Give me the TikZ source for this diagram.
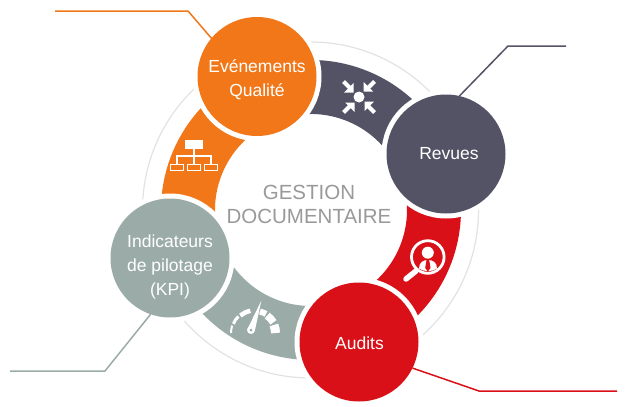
\documentclass[tikz,border=0pt]{standalone}
\usepackage{fontspec}
\setmainfont{Liberation Sans}
\usetikzlibrary{calc}
\definecolor{orangeq}{HTML}{F27718}
\definecolor{darkq}{HTML}{545365}
\definecolor{redq}{HTML}{DA1018}
\definecolor{greyq}{HTML}{9BACA8}
\definecolor{lineq}{HTML}{E2E2E2}
\definecolor{textq}{HTML}{999999}
\tikzset{
stage/.style={circle,minimum size=119pt,inner sep=0pt,outer sep=0pt,preaction={draw=white,line width=10pt}},
stagetext/.style={text=white,align=center,inner sep=0pt,font=\fontsize{17.5}{24.3}\selectfont},
leader/.style={line width=1.5pt},
iconline/.style={draw=white,line width=1.3pt}
}
\begin{document}
\begin{tikzpicture}[x=1pt,y=-1pt]
\useasboundingbox (0,0) rectangle (630,407);
\draw[lineq,line width=1.2pt] (310.5,210) circle (168);
\begin{scope}[shift={(311,210)}]
\foreach \from/\to/\col in {248/338/darkq,338/430/redq,70/161/greyq,161/248/orangeq}
  \fill[\col] (\from:150) arc[start angle=\from,end angle=\to,radius=150] -- (\to:96) arc[start angle=\to,end angle=\from,radius=96] -- cycle;
\end{scope}
\node[stage,fill=orangeq] (evenements) at (257,76.5) {};
\node[stage,fill=darkq] (revues) at (446,154) {};
\node[stage,fill=redq] (audits) at (359,342) {};
\node[stage,fill=greyq] (indicateurs) at (170,258) {};
\node[stagetext] (evenementstext) at (257,79.5) {Evénements\\Qualité};
\node[stagetext] (revuestext) at (449,153.5) {Revues};
\node[stagetext] (auditstext) at (359.5,343) {Audits};
\node[stagetext] (indicateurstext) at (170,267) {Indicateurs\\de pilotage\\(KPI)};
\node[text=textq,align=center,font=\fontsize{20.5}{24.5}\selectfont] (gestion) at (309,204.5) {GESTION\\DOCUMENTAIRE};
\coordinate (evenementsa) at (188,11);
\coordinate (evenementsb) at (55,11);
\coordinate (revuesa) at (508,46);
\coordinate (revuesb) at (566,46);
\coordinate (auditsa) at (479,391);
\coordinate (auditsb) at (617,391);
\coordinate (indicateursa) at (105,371);
\coordinate (indicateursb) at (10,371);
\draw[leader,orangeq] (evenements.140) -- (evenementsa) -- (evenementsb);
\draw[leader,darkq] (revues.77) -- (revuesa) -- (revuesb);
\draw[leader,redq] (audits.-26) -- (auditsa) -- (auditsb);
\draw[leader,greyq] (indicateurs.-109) -- (indicateursa) -- (indicateursb);
\fill[white] (359,97) circle (5.5);
\foreach \a in {0,90,180,270}{
  \begin{scope}[shift={(359,97)},rotate=\a]
  \fill[white] (-5.5,-4.5) -- (-5.5,-14) -- (-15,-4.5) -- cycle;
  \draw[white,line width=4.2pt] (-9,-9) -- (-15.5,-15.5);
  \end{scope}
}
\fill[white] (185.3,140) rectangle (203,148.7);
\draw[iconline] (194,148.7) -- (194,164);
\draw[iconline] (177,164) -- (177,156) -- (211,156) -- (211,164);
\foreach \x in {177,194,211}
  \draw[iconline] (\x-6.2,164.5) rectangle (\x+6.2,170.5);
\foreach \s/\e/\w in {180/198/2,203/225/3,230/258/4.5,283/300/6,305/330/7.5,337/360/9}
  \draw[white,line width=\w pt] ($(255,333)+(\s:25-\w/2)$) arc[start angle=\s,end angle=\e,radius=25-\w/2];
\fill[white] (261.3,300.7) -- (255,330) -- (247.5,329) -- cycle;
\fill[white] (251,330) circle (4);
\fill[greyq] (251,330) circle (1.5);
\draw[white,line width=2.8pt] (427.8,257) circle (16.3);
\draw[white,line width=5.5pt,line cap=round] (406,279) -- (416,271);
\draw[white,line width=2pt] (416,271) -- (418,269);
\fill[white] (427.8,252.7) circle (6);
\fill[white] (419,268.5) .. controls (419,262.5) and (423,260) .. (428,260) .. controls (433,260) and (437,262.5) .. (437,268.5) .. controls (432,272) and (424,272) .. (419,268.5) -- cycle;
\fill[redq] (426.5,260) -- (429.2,260) -- (430.5,268) -- (427.8,271.5) -- (425.2,268) -- cycle;
\end{tikzpicture}
\end{document}
